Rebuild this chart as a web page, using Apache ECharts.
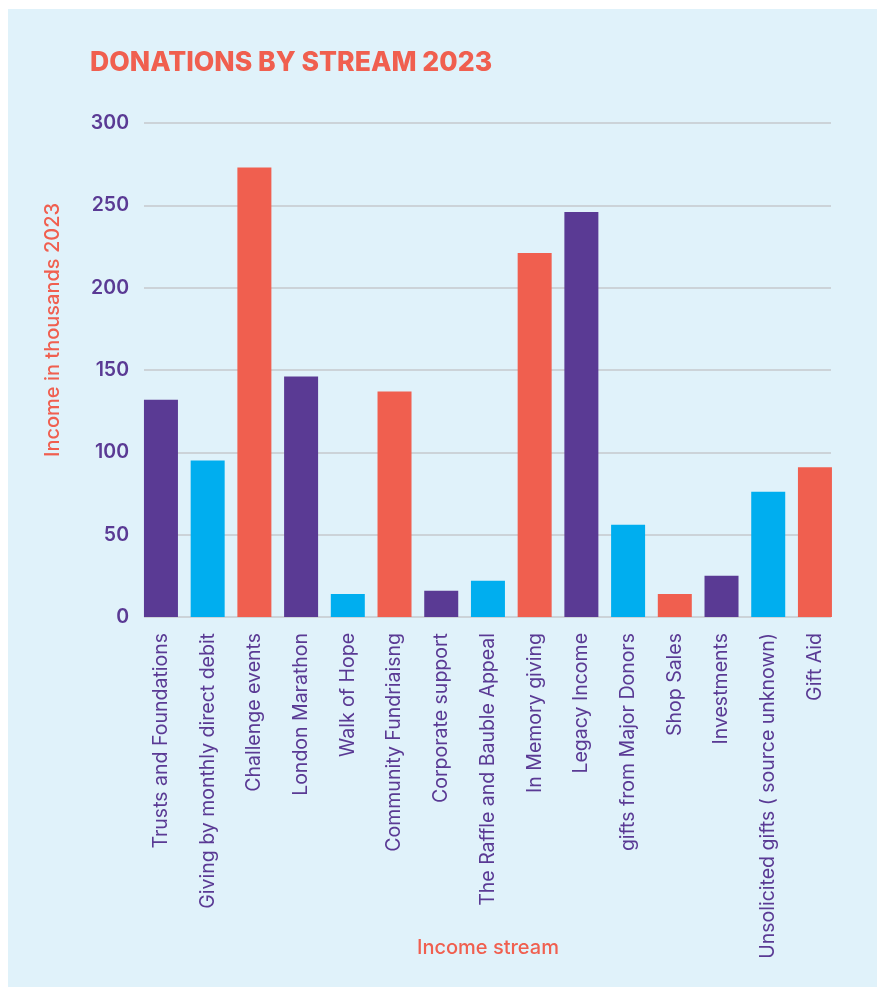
<!DOCTYPE html>
<html>
<head>
<meta charset="utf-8">
<script src="https://cdn.jsdelivr.net/npm/echarts@6/dist/echarts.min.js"></script>
<style>
html,body{margin:0;padding:0;background:#ffffff;}
#chart{width:877px;height:987px;}
</style>
</head>
<body>
<div id="chart"></div>
<script>
const categories = [
  'Trusts and Foundations',
  'Giving by monthly direct debit',
  'Challenge events',
  'London Marathon',
  'Walk of Hope',
  'Community Fundriaisng',
  'Corporate support',
  'The Raffle and Bauble Appeal',
  'In Memory giving',
  'Legacy Income',
  'gifts from Major Donors',
  'Shop Sales',
  'Investments',
  'Unsolicited gifts ( source unknown)',
  'Gift Aid'
];
const values = [132, 95, 273, 146, 14, 137, 16, 22, 221, 246, 56, 14, 25, 76, 91];
const yTicks = [0, 50, 100, 150, 200, 250, 300];
const palette = ['#5a3a94', '#00aeef', '#f05f4f'];

const PURPLE = '#5a3a94';
const CORAL = '#f05f4f';
const FONT = 'Inter, "Noto Sans", sans-serif';

const chart = echarts.init(document.getElementById('chart'), null, {renderer: 'canvas'});
chart.setOption({
  backgroundColor: '#ffffff',
  animation: false,
  graphic: [
    {type: 'rect', shape: {x: 8, y: 9, width: 877, height: 987}, style: {fill: '#e0f2fa'}, z: -10},
    {type: 'text', x: 90, y: 63, style: {text: 'DONATIONS BY STREAM 2023', fill: CORAL, font: '800 26.6px ' + FONT, textVerticalAlign: 'middle'}},
    {type: 'text', x: 53, y: 330, rotation: Math.PI / 2, style: {text: 'Income in thousands 2023', fill: CORAL, font: '500 20px ' + FONT, textAlign: 'center', textVerticalAlign: 'middle'}}
  ],
  grid: [
    {left: 137.6, right: 38.7, top: 123, bottom: 370, containLabel: false, outerBoundsMode: 'none'},
    {left: 144, right: 46, top: 123, bottom: 370, containLabel: false, outerBoundsMode: 'none'}
  ],
  xAxis: [
    {
      type: 'category', gridIndex: 0, data: categories,
      axisLine: {show: false}, axisTick: {show: false},
      axisLabel: {rotate: 90, margin: 16, color: PURPLE, fontSize: 19.5, fontFamily: FONT, interval: 0},
      name: 'Income stream', nameLocation: 'middle', nameGap: 321, nameMoveOverlap: false,
      nameTextStyle: {color: CORAL, fontSize: 20, fontWeight: 500, fontFamily: FONT}
    },
    {type: 'category', gridIndex: 1, show: false, data: categories}
  ],
  yAxis: [
    {type: 'value', gridIndex: 0, min: 0, max: 300, interval: 50, show: false},
    {
      type: 'value', gridIndex: 1, min: yTicks[0], max: yTicks[yTicks.length - 1], interval: 50,
      axisLine: {show: false}, axisTick: {show: false},
      axisLabel: {margin: 15, color: PURPLE, fontSize: 19.5, fontWeight: 600, fontFamily: FONT},
      splitLine: {lineStyle: {color: '#c6c8cc', width: 1.5}}
    }
  ],
  series: [{
    type: 'bar', xAxisIndex: 0, yAxisIndex: 0, barWidth: 34,
    data: values.map((v, i) => ({value: v, itemStyle: {color: palette[i % 3]}}))
  }]
});
</script>
</body>
</html>
